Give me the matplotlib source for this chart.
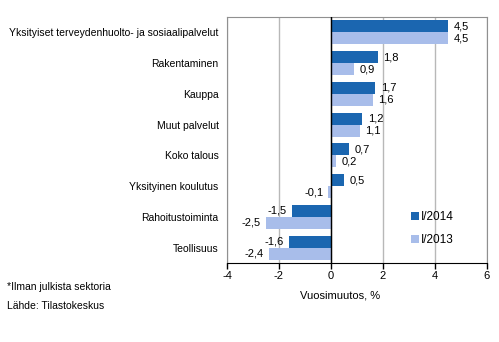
import matplotlib

matplotlib.use("Agg")
import matplotlib.pyplot as plt
import numpy as np

categories = ["Yksityiset terveydenhuolto- ja sosiaalipalvelut", "Rakentaminen", "Kauppa",
              "Muut palvelut", "Koko talous", "Yksityinen koulutus", "Rahoitustoiminta", "Teollisuus"]
y2014 = [4.5, 1.8, 1.7, 1.2, 0.7, 0.5, -1.5, -1.6]
y2013 = [4.5, 0.9, 1.6, 1.1, 0.2, -0.1, -2.5, -2.4]
series_names = ["I/2014", "I/2013"]

C_DARK = "#1b66b0"
C_LIGHT = "#a8bdea"

plt.rcParams.update({"font.family": ["Liberation Sans", "DejaVu Sans"], "font.size": 7.5})

fig = plt.figure(figsize=(4.99, 3.42), dpi=100)
ax = fig.add_axes([227 / 499, 1 - 263 / 342, 260 / 499, 246 / 342])

n = len(categories)
ys = np.arange(n)
h = 0.39
ax.barh(ys - h / 2, y2014, height=h, color=C_DARK, label=series_names[0], zorder=3)
ax.barh(ys + h / 2, y2013, height=h, color=C_LIGHT, label=series_names[1], zorder=3)


def fmt(v):
    return f"{v:.1f}".replace(".", ",")


for y, a, b in zip(ys, y2014, y2013):
    for v, yy in ((a, y - h / 2), (b, y + h / 2)):
        if v >= 0:
            ax.text(v + 0.22, yy, fmt(v), ha="left", va="center", fontsize=8)
        else:
            ax.text(v - 0.2, yy, fmt(v), ha="right", va="center", fontsize=8)

ax.set_ylim(n - 0.5, -0.5)
ax.set_xlim(-4, 6)
ax.set_xticks([-4, -2, 0, 2, 4, 6])
ax.set_xticklabels(["-4", "-2", "0", "2", "4", "6"], fontsize=8)
ax.set_yticks(ys)
ax.set_yticklabels(categories)
ax.tick_params(axis="y", length=0, pad=6)
ax.tick_params(axis="x", direction="out", length=4, width=1, color="black", pad=2)
ax.xaxis.grid(True, color="#b8b8b8", lw=1, zorder=0)
ax.axvline(0, color="black", lw=1, zorder=4)
for side in ("top", "right", "left"):
    ax.spines[side].set_color("#909090")
ax.spines["bottom"].set_color("black")

ax.legend(loc="center left", bbox_to_anchor=(0.708, 0.14), frameon=False, handlelength=0.7,
          handleheight=0.7, handletextpad=0.15, labelspacing=0.9, fontsize=8.5, borderpad=0,
          borderaxespad=0)

fig.text(340 / 499, 1 - 296 / 342, "Vuosimuutos, %", ha="center", va="center", fontsize=8)
fig.text(7 / 499, 1 - 287 / 342, "*Ilman julkista sektoria", ha="left", va="center", fontsize=7.5)
fig.text(7 / 499, 1 - 306 / 342, "Lähde: Tilastokeskus", ha="left", va="center", fontsize=7.5)

fig.savefig("out.png", dpi=100)
